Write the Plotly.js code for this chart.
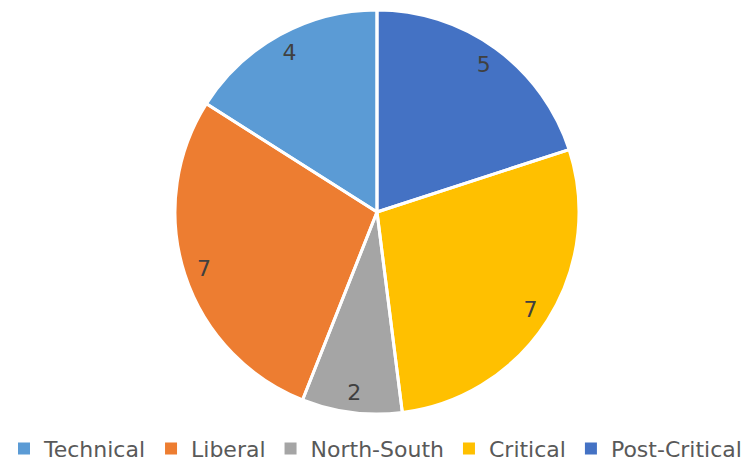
<!DOCTYPE html>
<html>
<head>
<meta charset="utf-8">
<script src="https://cdn.plot.ly/plotly-3.0.1.min.js"></script>
<style>html,body{margin:0;padding:0;background:#fff;}#chart{width:747px;height:465px;}</style>
</head>
<body>
<div id="chart"></div>
<script>
const categories = ["Technical", "Liberal", "North-South", "Critical", "Post-Critical"];
const values = [4, 7, 2, 7, 5];
const colors = ["#5B9BD5", "#ED7D31", "#A5A5A5", "#FFC000", "#4472C4"];

// first slice starts at 12 o'clock going counterclockwise
const total = values.reduce((a, b) => a + b, 0);
const rot = -360 * values[0] / total;

const common = {
  type: "pie",
  labels: categories,
  values: values,
  sort: false,
  direction: "counterclockwise",
  rotation: rot,
  domain: { x: [0, 1], y: [0, 1] }
};

const basePie = Object.assign({}, common, {
  marker: { colors: colors, line: { width: 0 } },
  textinfo: "none",
  hoverinfo: "label+value"
});

const borderPie = Object.assign({}, common, {
  marker: { colors: categories.map(() => "rgba(0,0,0,0)"), line: { color: "#FFFFFF", width: 3 } },
  textinfo: "none",
  showlegend: false,
  hoverinfo: "skip"
});

const labelPie = Object.assign({}, common, {
  hole: 0.8,
  marker: { colors: categories.map(() => "rgba(0,0,0,0)"), line: { width: 0 } },
  textinfo: "value",
  textposition: "inside",
  insidetextorientation: "horizontal",
  textfont: { family: "DejaVu Sans", size: 22, color: "#404040" },
  showlegend: false,
  hoverinfo: "skip"
});

const layout = {
  width: 747,
  height: 465,
  margin: { l: 7, r: 0, t: 10, b: 51 },
  paper_bgcolor: "#FFFFFF",
  showlegend: true,
  legend: {
    orientation: "h",
    x: 0.5, xanchor: "center",
    yref: "container", y: 0.035, yanchor: "middle",
    font: { family: "DejaVu Sans", size: 22, color: "#595959" },
    traceorder: "normal"
  }
};

Plotly.newPlot("chart", [basePie, borderPie, labelPie], layout, { displayModeBar: false, staticPlot: true });
</script>
</body>
</html>
